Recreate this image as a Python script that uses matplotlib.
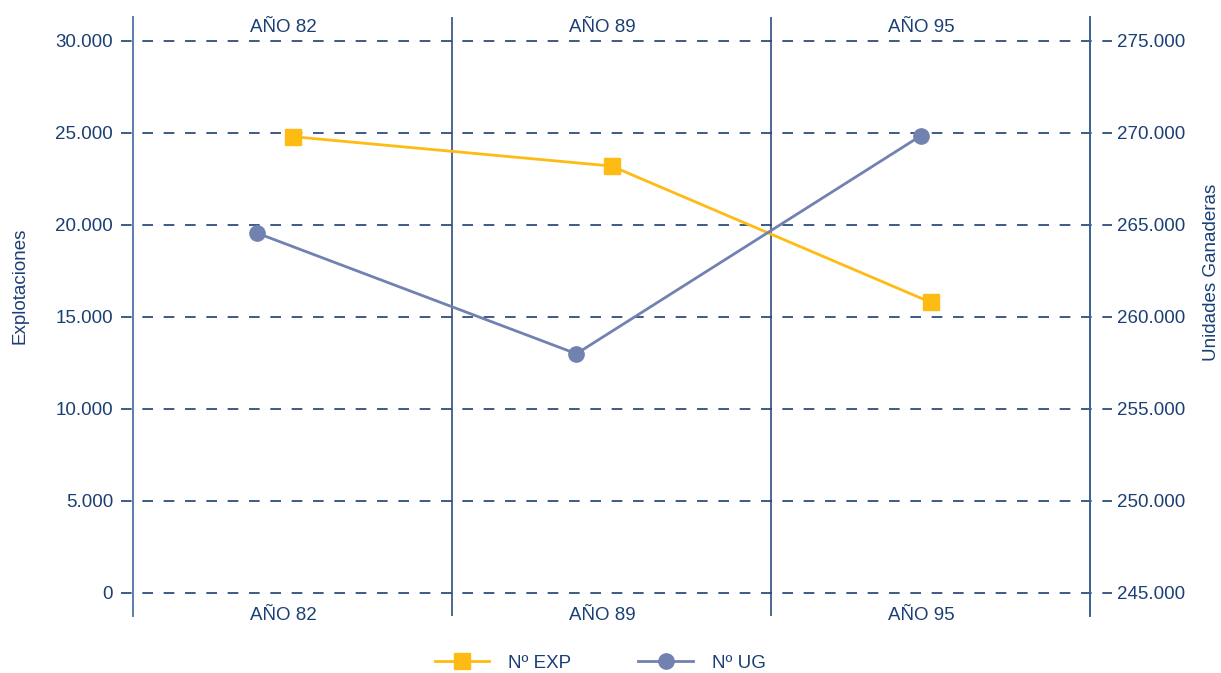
# -*- coding: utf-8 -*-
# Explotaciones vs Unidades Ganaderas, años 82 / 89 / 95

import numpy as np
import matplotlib
matplotlib.use("Agg")
import matplotlib.pyplot as plt
from matplotlib.ticker import FuncFormatter

# %% Data
years = ["AÑO 82", "AÑO 89", "AÑO 95"]
n_exp = [24800, 23200, 15800]          # Explotaciones (left axis)
n_ug = [264550, 258000, 269850]        # Unidades Ganaderas (right axis)
ug_shift = [-0.11, -0.11, -0.03]       # circle position inside each column
left_ticks = [0, 5000, 10000, 15000, 20000, 25000, 30000]
right_ticks = [245000, 250000, 255000, 260000, 265000, 270000, 275000]

# %% Style
plt.rcParams['font.family'] = ['Liberation Sans', 'DejaVu Sans']
plt.rcParams['lines.scale_dashes'] = False
NAVY = '#1b3f74'
GRID = '#1d3f75'
YELLOW = '#fdbb13'
SLATE = '#7282b0'
FS = 13.5

def miles(v, pos):
    return f"{int(v):,}".replace(",", ".")

# %% Plot
fig = plt.figure(figsize=(12.21, 6.73), dpi=100)
ax = fig.add_axes([133/1221, 1 - 616/673, (1090 - 133)/1221, (616 - 17)/673])
ax2 = ax.twinx()

x = np.arange(len(years))
ax.set_xlim(-0.5, len(years) - 0.5)
ax.set_ylim(-1250, 31300)
ax2.set_ylim(243750, 276300)

# dashed gridlines, running a little past both spines (they make the ticks)
ax.hlines(left_ticks, -0.0129, 1.0235, transform=ax.get_yaxis_transform(),
          color=GRID, lw=1.2, linestyles=[(0, (7.68, 7.68))], clip_on=False, zorder=1)
for xv in x[:-1] + 0.5:
    ax.axvline(xv, color=GRID, lw=1.1, zorder=1)

ax.plot(x, n_exp, color=YELLOW, lw=2, marker='s', ms=11.5, mec=YELLOW, zorder=3, label='Nº EXP')
ax2.plot(x + np.array(ug_shift), n_ug, color=SLATE, lw=2, marker='o', ms=11, mec=SLATE, zorder=3, label='Nº UG')

for i, yr in enumerate(years):
    ax.text(i - 0.03, 30505, yr, ha='center', va='baseline', color=NAVY, fontsize=FS)
    ax.text(i - 0.03, -1467, yr, ha='center', va='baseline', color=NAVY, fontsize=FS)

ax.set_xticks([])
ax.set_yticks(left_ticks)
ax.yaxis.set_major_formatter(FuncFormatter(miles))
ax2.set_yticks(right_ticks)
ax2.yaxis.set_major_formatter(FuncFormatter(miles))
ax.tick_params(axis='y', labelcolor=NAVY, labelsize=FS, length=0, pad=14.4)
ax2.tick_params(axis='y', labelcolor=NAVY, labelsize=FS, length=0, pad=19.4)

for a in (ax, ax2):
    a.spines['top'].set_visible(False)
    a.spines['bottom'].set_visible(False)
    a.spines['left'].set_color('#5d7dab')
    a.spines['right'].set_color('#3d5f94')
    a.spines['left'].set_linewidth(1.2)
    a.spines['right'].set_linewidth(1.2)

ax.set_ylabel('Explotaciones', color=NAVY, fontsize=FS, va='center')
ax.yaxis.set_label_coords((20 - 133)/957, (616 - 285.5)/599)
ax2.set_ylabel('Unidades Ganaderas', color=NAVY, fontsize=FS, va='center')
ax2.yaxis.set_label_coords((1211 - 133)/957, (616 - 272)/599)

h1, l1 = ax.get_legend_handles_labels()
h2, l2 = ax2.get_legend_handles_labels()
fig.legend(h1 + h2, l1 + l2, loc='center', bbox_to_anchor=(0.4915, 1 - 663/673), ncol=2,
           frameon=False, fontsize=FS, handlelength=2.9, handletextpad=1.0,
           columnspacing=3.6, labelcolor=NAVY)

fig.savefig('out.png', dpi=100)
